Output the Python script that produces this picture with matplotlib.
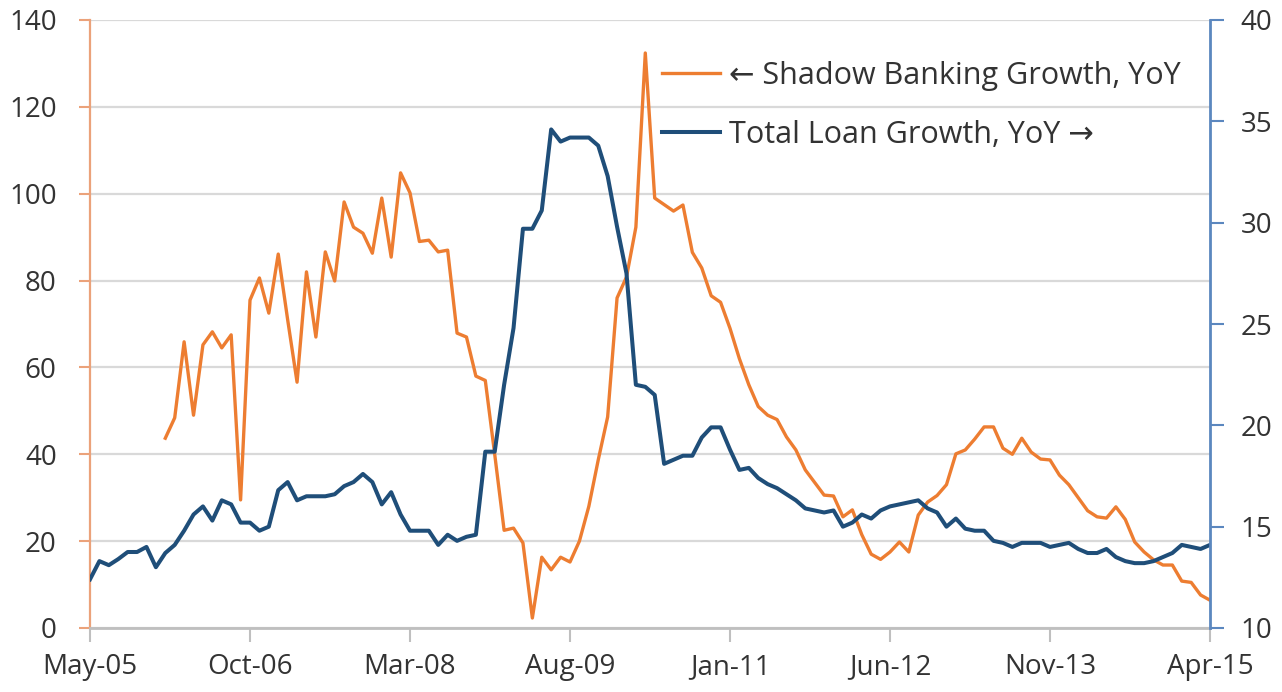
import matplotlib.pyplot as plt
import numpy as np
import pandas as pd

plt.rcParams['font.family'] = ['Open Sans', 'DejaVu Sans']

# monthly, May-05 .. Apr-15
months = pd.date_range('2005-05-01', periods=120, freq='MS')

# shadow banking growth, YoY (%), left axis; starts Jan-06
shadow = [np.nan] * 8 + [
    43.7, 48.4, 65.9, 49.0, 65.2, 68.2, 64.5, 67.5, 29.5, 75.5,
    80.6, 72.5, 86.1, 71.0, 56.6, 82.0, 67.0, 86.6, 79.9, 98.1,
    92.3, 90.9, 86.3, 99.0, 85.4, 104.8, 100.2, 89.0, 89.3, 86.6,
    87.0, 67.9, 67.0, 58.0, 57.0, 40.0, 22.5, 23.0, 19.6, 2.3,
    16.3, 13.4, 16.3, 15.2, 20.0, 28.0, 38.7, 48.6, 76.0, 80.8,
    92.3, 132.4, 99.0, 97.5, 96.0, 97.4, 86.5, 82.9, 76.5, 75.0,
    69.0, 62.0, 56.0, 51.0, 49.0, 48.0, 44.0, 41.0, 36.4, 33.5,
    30.6, 30.4, 25.6, 27.2, 21.5, 17.0, 15.8, 17.5, 19.8, 17.5,
    26.0, 29.0, 30.5, 33.0, 40.1, 41.0, 43.5, 46.3, 46.3, 41.4,
    40.0, 43.7, 40.5, 38.9, 38.7, 35.2, 33.0, 30.0, 27.0, 25.6,
    25.3, 27.9, 25.0, 19.8, 17.5, 15.7, 14.5, 14.5, 10.8, 10.5,
    7.6, 6.4,
]

# total loan growth, YoY (%), right axis
loans = [
    12.4, 13.3, 13.1, 13.4, 13.75, 13.75, 14.0, 13.0, 13.7, 14.1,
    14.8, 15.6, 16.0, 15.3, 16.3, 16.1, 15.2, 15.2, 14.8, 15.0,
    16.8, 17.2, 16.3, 16.5, 16.5, 16.5, 16.6, 17.0, 17.2, 17.6,
    17.2, 16.1, 16.7, 15.6, 14.8, 14.8, 14.8, 14.1, 14.6, 14.3,
    14.5, 14.6, 18.7, 18.7, 22.0, 24.8, 29.7, 29.7, 30.6, 34.6,
    34.0, 34.2, 34.2, 34.2, 33.8, 32.3, 29.8, 27.5, 22.0, 21.9,
    21.5, 18.1, 18.3, 18.5, 18.5, 19.4, 19.9, 19.9, 18.8, 17.8,
    17.9, 17.4, 17.1, 16.9, 16.6, 16.3, 15.9, 15.8, 15.7, 15.8,
    15.0, 15.2, 15.6, 15.4, 15.8, 16.0, 16.1, 16.2, 16.3, 15.9,
    15.7, 15.0, 15.4, 14.9, 14.8, 14.8, 14.3, 14.2, 14.0, 14.2,
    14.2, 14.2, 14.0, 14.1, 14.2, 13.9, 13.7, 13.7, 13.9, 13.5,
    13.3, 13.2, 13.2, 13.3, 13.5, 13.7, 14.1, 14.0, 13.9, 14.1,
]

ORANGE = '#ED7D31'
BLUE = '#1F4E79'
TEXT = '#333333'
x = np.arange(len(months))

fig = plt.figure(figsize=(12.82, 6.92), dpi=100)
ax = fig.add_axes([90 / 1282, 1 - 628 / 692, 1120 / 1282, 608 / 692])
ax2 = ax.twinx()

ax.set_xlim(0, len(months) - 1)
ax.set_ylim(0, 140)
ax2.set_ylim(10, 40)
ax.set_yticks(range(0, 141, 20))
ax2.set_yticks(range(10, 41, 5))
ax.grid(axis='y', color='#D9D9D9', linewidth=1.6)
ax.set_axisbelow(True)

l1, = ax.plot(x, shadow, color=ORANGE, linewidth=2.4, label='\u2190 Shadow Banking Growth, YoY')
l2, = ax2.plot(x, loans, color=BLUE, linewidth=2.9, label='Total Loan Growth, YoY \u2192')

tick_pos = x[::17]
ax.set_xticks(tick_pos)
ax.set_xticklabels([months[i].strftime('%b-%y') for i in tick_pos])

for a in (ax, ax2):
    a.spines['top'].set_visible(False)
ax.spines['right'].set_visible(False)
ax.spines['left'].set_color('#EBA27A')
ax.spines['left'].set_linewidth(1.6)
ax.spines['bottom'].set_color('#BFBFBF')
ax.spines['bottom'].set_linewidth(2)
ax2.spines['left'].set_visible(False)
ax2.spines['bottom'].set_visible(False)
ax2.spines['right'].set_color('#5B87BF')
ax2.spines['right'].set_linewidth(2)

ax.tick_params(axis='x', colors='#BFBFBF', width=1.5, length=10, labelcolor=TEXT, labelsize=20, pad=8)
ax.tick_params(axis='y', colors='#EBA27A', width=1.5, length=8, labelcolor=TEXT, labelsize=20, pad=16)
ax2.tick_params(axis='y', colors='#5B87BF', width=1.5, length=10, labelcolor=TEXT, labelsize=20, pad=12)

fig.legend(handles=[l1, l2], loc='upper left', bbox_to_anchor=(662 / 1282, 1 - 61 / 692),
           frameon=False, fontsize=22, handlelength=1.9, handletextpad=0.3,
           labelspacing=0.95, labelcolor=TEXT, borderaxespad=0, borderpad=0)

fig.savefig('out.png', dpi=100)
